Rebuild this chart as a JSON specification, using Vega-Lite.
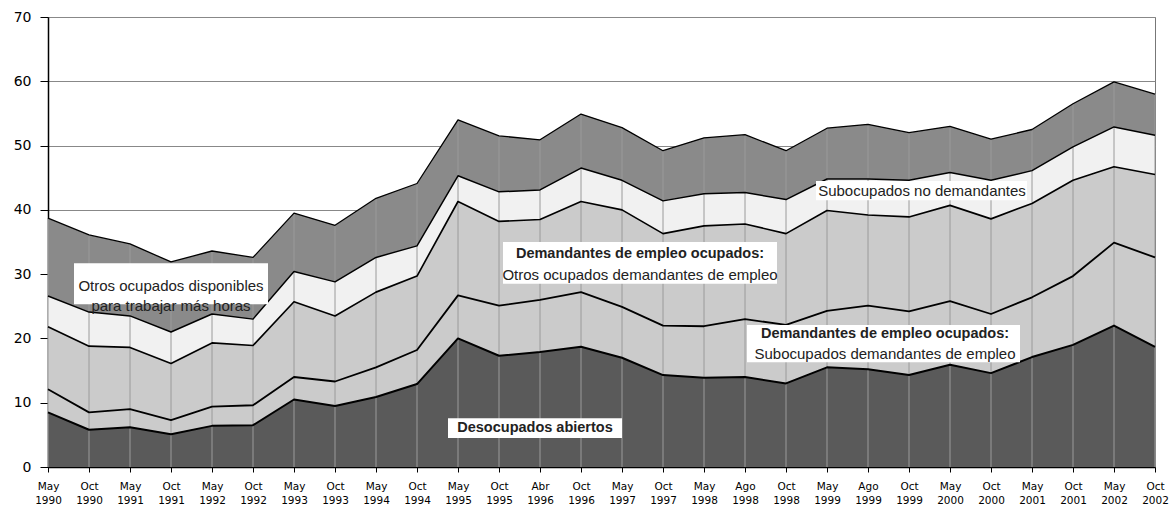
{
  "$schema": "https://vega.github.io/schema/vega-lite/v6.json",
  "width": 1107,
  "height": 450,
  "autosize": "none",
  "padding": {"left": 48, "top": 17, "right": 16, "bottom": 39},
  "background": "white",
  "config": {"view": {"stroke": "#777777", "strokeWidth": 1}, "font": "Liberation Sans"},
  "data": {"values": [
    {"periodo": "May 1990", "Desocupados abiertos": 8.5, "Subocupados demandantes": 3.6, "Otros ocupados demandantes": 9.7, "Subocupados no demandantes": 4.8, "Otros ocupados disponibles": 12.1},
    {"periodo": "Oct 1990", "Desocupados abiertos": 5.8, "Subocupados demandantes": 2.7, "Otros ocupados demandantes": 10.3, "Subocupados no demandantes": 5.3, "Otros ocupados disponibles": 12.0},
    {"periodo": "May 1991", "Desocupados abiertos": 6.2, "Subocupados demandantes": 2.8, "Otros ocupados demandantes": 9.6, "Subocupados no demandantes": 4.9, "Otros ocupados disponibles": 11.2},
    {"periodo": "Oct 1991", "Desocupados abiertos": 5.1, "Subocupados demandantes": 2.2, "Otros ocupados demandantes": 8.8, "Subocupados no demandantes": 4.9, "Otros ocupados disponibles": 10.9},
    {"periodo": "May 1992", "Desocupados abiertos": 6.4, "Subocupados demandantes": 3.0, "Otros ocupados demandantes": 9.9, "Subocupados no demandantes": 4.5, "Otros ocupados disponibles": 9.8},
    {"periodo": "Oct 1992", "Desocupados abiertos": 6.5, "Subocupados demandantes": 3.1, "Otros ocupados demandantes": 9.3, "Subocupados no demandantes": 4.1, "Otros ocupados disponibles": 9.6},
    {"periodo": "May 1993", "Desocupados abiertos": 10.5, "Subocupados demandantes": 3.5, "Otros ocupados demandantes": 11.7, "Subocupados no demandantes": 4.7, "Otros ocupados disponibles": 9.1},
    {"periodo": "Oct 1993", "Desocupados abiertos": 9.5, "Subocupados demandantes": 3.8, "Otros ocupados demandantes": 10.2, "Subocupados no demandantes": 5.3, "Otros ocupados disponibles": 8.8},
    {"periodo": "May 1994", "Desocupados abiertos": 10.9, "Subocupados demandantes": 4.6, "Otros ocupados demandantes": 11.7, "Subocupados no demandantes": 5.4, "Otros ocupados disponibles": 9.2},
    {"periodo": "Oct 1994", "Desocupados abiertos": 12.9, "Subocupados demandantes": 5.3, "Otros ocupados demandantes": 11.5, "Subocupados no demandantes": 4.7, "Otros ocupados disponibles": 9.7},
    {"periodo": "May 1995", "Desocupados abiertos": 20.0, "Subocupados demandantes": 6.7, "Otros ocupados demandantes": 14.6, "Subocupados no demandantes": 4.0, "Otros ocupados disponibles": 8.7},
    {"periodo": "Oct 1995", "Desocupados abiertos": 17.3, "Subocupados demandantes": 7.8, "Otros ocupados demandantes": 13.1, "Subocupados no demandantes": 4.6, "Otros ocupados disponibles": 8.7},
    {"periodo": "Abr 1996", "Desocupados abiertos": 17.9, "Subocupados demandantes": 8.1, "Otros ocupados demandantes": 12.5, "Subocupados no demandantes": 4.6, "Otros ocupados disponibles": 7.8},
    {"periodo": "Oct 1996", "Desocupados abiertos": 18.7, "Subocupados demandantes": 8.5, "Otros ocupados demandantes": 14.1, "Subocupados no demandantes": 5.2, "Otros ocupados disponibles": 8.4},
    {"periodo": "May 1997", "Desocupados abiertos": 17.0, "Subocupados demandantes": 7.9, "Otros ocupados demandantes": 15.1, "Subocupados no demandantes": 4.6, "Otros ocupados disponibles": 8.2},
    {"periodo": "Oct 1997", "Desocupados abiertos": 14.3, "Subocupados demandantes": 7.7, "Otros ocupados demandantes": 14.3, "Subocupados no demandantes": 5.1, "Otros ocupados disponibles": 7.8},
    {"periodo": "May 1998", "Desocupados abiertos": 13.9, "Subocupados demandantes": 8.0, "Otros ocupados demandantes": 15.6, "Subocupados no demandantes": 5.0, "Otros ocupados disponibles": 8.7},
    {"periodo": "Ago 1998", "Desocupados abiertos": 14.0, "Subocupados demandantes": 9.0, "Otros ocupados demandantes": 14.8, "Subocupados no demandantes": 4.9, "Otros ocupados disponibles": 9.0},
    {"periodo": "Oct 1998", "Desocupados abiertos": 13.0, "Subocupados demandantes": 9.1, "Otros ocupados demandantes": 14.2, "Subocupados no demandantes": 5.3, "Otros ocupados disponibles": 7.6},
    {"periodo": "May 1999", "Desocupados abiertos": 15.5, "Subocupados demandantes": 8.8, "Otros ocupados demandantes": 15.6, "Subocupados no demandantes": 4.9, "Otros ocupados disponibles": 7.9},
    {"periodo": "Ago 1999", "Desocupados abiertos": 15.2, "Subocupados demandantes": 9.9, "Otros ocupados demandantes": 14.1, "Subocupados no demandantes": 5.6, "Otros ocupados disponibles": 8.5},
    {"periodo": "Oct 1999", "Desocupados abiertos": 14.3, "Subocupados demandantes": 9.9, "Otros ocupados demandantes": 14.7, "Subocupados no demandantes": 5.7, "Otros ocupados disponibles": 7.4},
    {"periodo": "May 2000", "Desocupados abiertos": 15.9, "Subocupados demandantes": 9.9, "Otros ocupados demandantes": 14.9, "Subocupados no demandantes": 5.1, "Otros ocupados disponibles": 7.2},
    {"periodo": "Oct 2000", "Desocupados abiertos": 14.6, "Subocupados demandantes": 9.2, "Otros ocupados demandantes": 14.8, "Subocupados no demandantes": 6.0, "Otros ocupados disponibles": 6.4},
    {"periodo": "May 2001", "Desocupados abiertos": 17.1, "Subocupados demandantes": 9.3, "Otros ocupados demandantes": 14.6, "Subocupados no demandantes": 5.1, "Otros ocupados disponibles": 6.4},
    {"periodo": "Oct 2001", "Desocupados abiertos": 19.0, "Subocupados demandantes": 10.7, "Otros ocupados demandantes": 14.9, "Subocupados no demandantes": 5.2, "Otros ocupados disponibles": 6.7},
    {"periodo": "May 2002", "Desocupados abiertos": 22.0, "Subocupados demandantes": 12.9, "Otros ocupados demandantes": 11.8, "Subocupados no demandantes": 6.2, "Otros ocupados disponibles": 7.0},
    {"periodo": "Oct 2002", "Desocupados abiertos": 18.7, "Subocupados demandantes": 13.9, "Otros ocupados demandantes": 12.9, "Subocupados no demandantes": 6.1, "Otros ocupados disponibles": 6.4}
  ]},
  "transform": [
    {"fold": ["Desocupados abiertos", "Subocupados demandantes", "Otros ocupados demandantes", "Subocupados no demandantes", "Otros ocupados disponibles"], "as": ["serie", "valor"]},
    {"calculate": "indexof(['Desocupados abiertos', 'Subocupados demandantes', 'Otros ocupados demandantes', 'Subocupados no demandantes', 'Otros ocupados disponibles'], datum.serie)", "as": "orden"}
  ],
  "encoding": {
    "x": {
      "field": "periodo", "type": "ordinal", "title": null,
      "scale": {"type": "point", "padding": 0, "domain": ["May 1990", "Oct 1990", "May 1991", "Oct 1991", "May 1992", "Oct 1992", "May 1993", "Oct 1993", "May 1994", "Oct 1994", "May 1995", "Oct 1995", "Abr 1996", "Oct 1996", "May 1997", "Oct 1997", "May 1998", "Ago 1998", "Oct 1998", "May 1999", "Ago 1999", "Oct 1999", "May 2000", "Oct 2000", "May 2001", "Oct 2001", "May 2002", "Oct 2002"]},
      "axis": {"labelExpr": "split(datum.label, ' ')", "labelAngle": 0, "labelFont": "DejaVu Sans", "labelFontSize": 10.5, "labelColor": "#000000", "labelPadding": 9, "labelLineHeight": 14, "labelBaseline": "top", "domainColor": "#000000", "domainWidth": 1.5, "tickColor": "#000000", "tickSize": 5, "grid": false}
    }
  },
  "layer": [
    {
      "mark": {"type": "area", "interpolate": "linear"},
      "encoding": {
        "y": {"field": "valor", "type": "quantitative", "stack": "zero", "title": null,
          "scale": {"domain": [0, 70]},
          "axis": {"values": [0, 10, 20, 30, 40, 50, 60, 70], "labelFont": "DejaVu Sans", "labelFontSize": 14, "labelColor": "#000000", "labelPadding": 9, "tickSize": 8, "tickColor": "#000000", "domainColor": "#000000", "domainWidth": 1.5, "gridColor": "#888888", "gridWidth": 1}},
        "order": {"field": "orden", "type": "quantitative", "sort": "ascending"},
        "color": {"field": "serie", "type": "nominal",
          "scale": {"domain": ["Desocupados abiertos", "Subocupados demandantes", "Otros ocupados demandantes", "Subocupados no demandantes", "Otros ocupados disponibles"], "range": ["#5a5a5a", "#cbcbcb", "#cbcbcb", "#f1f1f1", "#8a8a8a"]},
          "legend": null}
      }
    },
    {
      "mark": {"type": "rule", "color": "#9a9a9a", "strokeWidth": 1},
      "encoding": {
        "y": {"aggregate": "sum", "field": "valor", "type": "quantitative", "title": null},
        "y2": {"datum": 0}
      }
    },
    {
      "mark": {"type": "line", "interpolate": "linear", "strokeJoin": "round"},
      "encoding": {
        "y": {"field": "valor", "type": "quantitative", "stack": "zero", "title": null},
        "order": {"field": "orden", "type": "quantitative", "sort": "ascending"},
        "color": {"field": "serie", "type": "nominal",
          "scale": {"domain": ["Desocupados abiertos", "Subocupados demandantes", "Otros ocupados demandantes", "Subocupados no demandantes", "Otros ocupados disponibles"], "range": ["#000000", "#000000", "#000000", "#000000", "#000000"]},
          "legend": null},
        "strokeWidth": {"field": "serie", "type": "nominal",
          "scale": {"domain": ["Desocupados abiertos", "Subocupados demandantes", "Otros ocupados demandantes", "Subocupados no demandantes", "Otros ocupados disponibles"], "range": [2, 1.3, 2, 2.2, 2]},
          "legend": null}
      }
    },
    {
      "data": {"values": [{}]},
      "mark": {"type": "rect", "fill": "white", "xOffset": -97, "x2Offset": 97},
      "encoding": {"x": {"datum": "Oct 1991", "type": "ordinal"}, "x2": {"datum": "Oct 1991"}, "y": {"datum": 31.7, "type": "quantitative"}, "y2": {"datum": 25.3}}
    },
    {
      "data": {"values": [{}]},
      "mark": {"type": "text", "text": ["Otros ocupados disponibles", "para trabajar más horas"], "font": "Liberation Sans", "fontSize": 15, "lineHeight": 20, "color": "#222222", "align": "center", "baseline": "middle"},
      "encoding": {"x": {"datum": "Oct 1991", "type": "ordinal"}, "y": {"datum": 28.2, "type": "quantitative"}}
    },
    {
      "data": {"values": [{}]},
      "mark": {"type": "rect", "fill": "white", "xOffset": -119, "x2Offset": 155},
      "encoding": {"x": {"datum": "May 1997", "type": "ordinal"}, "x2": {"datum": "May 1997"}, "y": {"datum": 35.0, "type": "quantitative"}, "y2": {"datum": 28.5}}
    },
    {
      "data": {"values": [{}]},
      "mark": {"type": "text", "text": "Demandantes de empleo ocupados:", "font": "Liberation Sans", "fontSize": 14.5, "fontWeight": "bold", "color": "#222222", "align": "center", "baseline": "middle", "dx": 18},
      "encoding": {"x": {"datum": "May 1997", "type": "ordinal"}, "y": {"datum": 33.2, "type": "quantitative"}}
    },
    {
      "data": {"values": [{}]},
      "mark": {"type": "text", "text": "Otros ocupados demandantes de empleo", "font": "Liberation Sans", "fontSize": 15, "color": "#222222", "align": "center", "baseline": "middle", "dx": 18},
      "encoding": {"x": {"datum": "May 1997", "type": "ordinal"}, "y": {"datum": 29.9, "type": "quantitative"}}
    },
    {
      "data": {"values": [{}]},
      "mark": {"type": "rect", "fill": "white", "xOffset": -121, "x2Offset": 152},
      "encoding": {"x": {"datum": "Ago 1999", "type": "ordinal"}, "x2": {"datum": "Ago 1999"}, "y": {"datum": 22.1, "type": "quantitative"}, "y2": {"datum": 16.3}}
    },
    {
      "data": {"values": [{}]},
      "mark": {"type": "text", "text": "Demandantes de empleo ocupados:", "font": "Liberation Sans", "fontSize": 14.5, "fontWeight": "bold", "color": "#222222", "align": "center", "baseline": "middle", "dx": 17},
      "encoding": {"x": {"datum": "Ago 1999", "type": "ordinal"}, "y": {"datum": 20.7, "type": "quantitative"}}
    },
    {
      "data": {"values": [{}]},
      "mark": {"type": "text", "text": "Subocupados demandantes de empleo", "font": "Liberation Sans", "fontSize": 15, "color": "#222222", "align": "center", "baseline": "middle", "dx": 17},
      "encoding": {"x": {"datum": "Ago 1999", "type": "ordinal"}, "y": {"datum": 17.6, "type": "quantitative"}}
    },
    {
      "data": {"values": [{}]},
      "mark": {"type": "rect", "fill": "white", "xOffset": -93, "x2Offset": 118},
      "encoding": {"x": {"datum": "Oct 1999", "type": "ordinal"}, "x2": {"datum": "Oct 1999"}, "y": {"datum": 44.5, "type": "quantitative"}, "y2": {"datum": 41.5}}
    },
    {
      "data": {"values": [{}]},
      "mark": {"type": "text", "text": "Subocupados no demandantes", "font": "Liberation Sans", "fontSize": 15, "color": "#222222", "align": "center", "baseline": "middle", "dx": 13},
      "encoding": {"x": {"datum": "Oct 1999", "type": "ordinal"}, "y": {"datum": 42.9, "type": "quantitative"}}
    },
    {
      "data": {"values": [{}]},
      "mark": {"type": "rect", "fill": "white", "xOffset": -92, "x2Offset": 82},
      "encoding": {"x": {"datum": "Abr 1996", "type": "ordinal"}, "x2": {"datum": "Abr 1996"}, "y": {"datum": 7.6, "type": "quantitative"}, "y2": {"datum": 4.5}}
    },
    {
      "data": {"values": [{}]},
      "mark": {"type": "text", "text": "Desocupados abiertos", "font": "Liberation Sans", "fontSize": 14.5, "fontWeight": "bold", "color": "#222222", "align": "center", "baseline": "middle", "dx": -5},
      "encoding": {"x": {"datum": "Abr 1996", "type": "ordinal"}, "y": {"datum": 6.1, "type": "quantitative"}}
    }
  ],
  "resolve": {"scale": {"color": "independent"}}
}
